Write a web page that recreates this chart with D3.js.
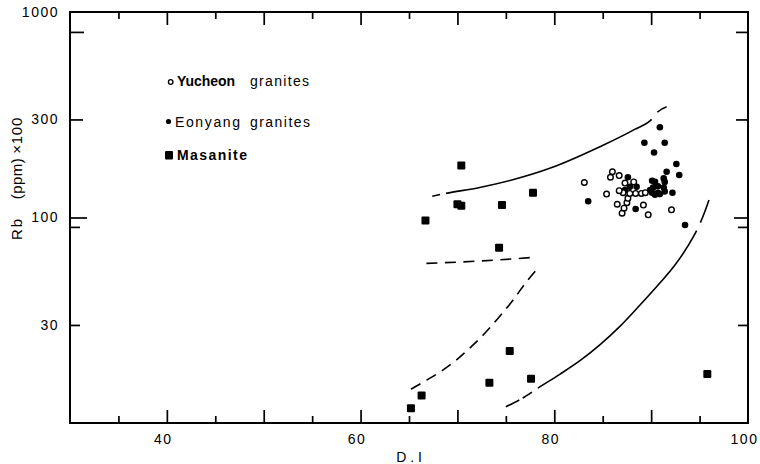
<!DOCTYPE html>
<html>
<head>
<meta charset="utf-8">
<script src="https://cdn.jsdelivr.net/npm/d3@7"></script>
<style>
  html, body { margin: 0; padding: 0; background: #fff; }
  svg text { font-family: "Liberation Sans", Arial, sans-serif; fill: #000; }
</style>
</head>
<body>
<svg id="chart" width="760" height="464"></svg>
<script>
// ---- axis ticks and labels ----
const diTicks = d3.range(35, 100, 5);          // frame ticks, every 5 D.I units
const diLabels = [40, 60, 80, 100];
const rbLabels = [30, 100, 300, 1000];
const rbTicks = [30, 100, 300];
const rbExtraTicks = [90, 800];

// ---- samples: [D.I, Rb (ppm)x100] ----
const yucheon = [
  [83.1, 148], [86.0, 167], [85.8, 157], [86.7, 160], [85.4, 130], [86.5, 116],
  [87.0, 105], [87.2, 111], [87.5, 118], [87.6, 124], [87.1, 132], [87.8, 131],
  [88.4, 131], [89.0, 131], [89.4, 132], [89.2, 115], [89.7, 103], [92.1, 109],
  [87.3, 147], [86.7, 135], [88.2, 149]
];
const eonyang = [
  [83.5, 120], [90.9, 275], [89.3, 231], [91.4, 231], [90.3, 207], [92.6, 182],
  [92.9, 161], [91.6, 167], [91.3, 155], [90.1, 151], [90.4, 149], [91.4, 149],
  [90.7, 142], [90.2, 140], [91.3, 140], [89.9, 136], [90.4, 129], [90.9, 130],
  [91.4, 134], [92.2, 132], [93.5, 92], [88.4, 110], [87.6, 157], [87.3, 136],
  [88.5, 141], [87.8, 141], [90.1, 132], [90.7, 132]
];
const masanite = [
  [66.7, 96.7], [70.4, 179], [70.0, 116], [70.4, 114], [74.6, 115], [77.8, 132],
  [74.3, 71.3], [65.2, 11.8], [66.3, 13.6], [73.3, 15.7], [75.4, 22.4], [77.6, 16.4],
  [95.8, 17.3]
];

// ---- field boundaries ----
const upperBoundary = [
  [67.4, 127], [68.8, 131], [72.3, 140], [75.8, 153], [79.6, 174], [84.7, 221],
  [88.2, 267], [90.1, 302], [90.7, 327], [91.6, 346]
];
const lowerBoundary = [
  [75.0, 12.0], [76.46, 13.0], [78.42, 14.9], [80.6, 17.3], [82.65, 20.1], [84.7, 24.0],
  [86.8, 29.6], [88.85, 37.5], [90.9, 48.0], [92.46, 58.7], [93.8, 72.7], [94.83, 88.9],
  [95.45, 104], [95.97, 121.7]
];
const leftBoundary = [
  [65.2, 14.6], [66.65, 16.0], [68.2, 17.7], [69.75, 20.0], [71.3, 23.2], [72.85, 27.4],
  [74.4, 33.2], [75.75, 39.7], [77.1, 48.5], [78.45, 57.6]
];
const midBoundary = [[66.8, 59.8], [72.3, 61.4], [77.9, 64.0]];

const legendNames = ["Yucheon", "granites", "Eonyang", "Masanite"];

// ---- layout ----
const frame = { left: 70, right: 748, top: 12, bottom: 423 };
const svg = d3.select("#chart");
const x = d3.scaleLinear().domain([30, 100]).range([frame.left, frame.right]);
const y = d3.scaleLog().domain([10, 1000]).range([frame.bottom, frame.top]);

const FONT = '"Liberation Sans", Arial, sans-serif';

function styleAxis(g) {
  g.select(".domain").remove();
  g.attr("font-family", FONT);
  g.selectAll("line").attr("stroke", "#000").attr("stroke-width", 1.7);
}

// frame ticks on the bottom and top edges, major every 10, minor between
const major = diTicks.filter(v => v % 10 === 0);
const minor = diTicks.filter(v => v % 10 !== 0);
[[major, 13], [minor, 7]].forEach(([vals, len]) => {
  svg.append("g").attr("transform", `translate(0,${frame.bottom})`)
    .call(d3.axisBottom(x).tickValues(vals).tickSize(-len).tickFormat(""))
    .call(styleAxis);
  svg.append("g").attr("transform", `translate(0,${frame.top})`)
    .call(d3.axisTop(x).tickValues(vals).tickSize(-len).tickFormat(""))
    .call(styleAxis);
});

// frame ticks on left and right edges
const leftLen = { 30: 10, 100: 17, 300: 13, 90: 10, 800: 14 };
const rightLen = { 30: 10, 100: 14, 300: 12, 90: 10, 800: 12 };
rbTicks.concat(rbExtraTicks).forEach(v => {
  svg.append("g").attr("transform", `translate(${frame.left},0)`)
    .call(d3.axisLeft(y).tickValues([v]).tickSize(-leftLen[v]).tickFormat(""))
    .call(styleAxis);
  svg.append("g").attr("transform", `translate(${frame.right},0)`)
    .call(d3.axisRight(y).tickValues([v]).tickSize(-rightLen[v]).tickFormat(""))
    .call(styleAxis);
});

// tick labels
svg.append("g").attr("transform", `translate(-4,${frame.bottom})`)
  .call(d3.axisBottom(x).tickValues(diLabels).tickSize(0).tickPadding(11).tickFormat(d3.format("d")))
  .call(styleAxis)
  .selectAll("text").attr("font-size", 14).attr("letter-spacing", "1.5px");

svg.append("g").attr("transform", `translate(${frame.left},0)`)
  .call(d3.axisLeft(y).tickValues(rbLabels).tickSize(0).tickPadding(11).tickFormat(d3.format("d")))
  .call(styleAxis)
  .selectAll("text").attr("font-size", 14).attr("letter-spacing", "1.5px");

// frame
svg.append("rect")
  .attr("x", frame.left).attr("y", frame.top)
  .attr("width", frame.right - frame.left).attr("height", frame.bottom - frame.top)
  .attr("fill", "none").attr("stroke", "#000").attr("stroke-width", 2);

// axis titles
svg.append("text")
  .attr("x", 409).attr("y", 462).attr("text-anchor", "middle")
  .attr("font-size", 14).text("D . I");

const yTitle = svg.append("text")
  .attr("transform", "translate(22,240) rotate(-90)")
  .attr("font-size", 15);
yTitle.append("tspan").attr("textLength", 21).attr("lengthAdjust", "spacing").text("Rb");
yTitle.append("tspan").attr("dx", 18).attr("textLength", 41).attr("lengthAdjust", "spacing").text("(ppm)");
yTitle.append("tspan").attr("dx", 4).attr("textLength", 36).attr("lengthAdjust", "spacing").text("×100");

// boundary curves
const line = d3.line().x(d => x(d[0])).y(d => y(d[1])).curve(d3.curveMonotoneX);
function drawCurve(data, dashFn) {
  const p = svg.append("path").attr("d", line(data))
    .attr("fill", "none").attr("stroke", "#000").attr("stroke-width", 1.6);
  const L = p.node().getTotalLength();
  p.attr("stroke-dasharray", dashFn(L));
}
drawCurve(upperBoundary, L => `8 6 ${L - 8 - 6 - 9 - 11} 9 11`);
drawCurve(lowerBoundary, L => `15 4 11 7 ${L - 15 - 4 - 11 - 7 - 9 - 24} 9 24`);
drawCurve(leftBoundary, () => "11 7");
drawCurve(midBoundary, () => "11 7.5");

// samples
svg.append("g").selectAll("rect").data(masanite).join("rect")
  .attr("x", d => x(d[0]) - 4).attr("y", d => y(d[1]) - 4)
  .attr("width", 8).attr("height", 8).attr("rx", 1).attr("fill", "#000");

svg.append("g").selectAll("circle").data(eonyang).join("circle")
  .attr("cx", d => x(d[0])).attr("cy", d => y(d[1])).attr("r", 3.3).attr("fill", "#000");

svg.append("g").selectAll("circle").data(yucheon).join("circle")
  .attr("cx", d => x(d[0])).attr("cy", d => y(d[1])).attr("r", 2.8)
  .attr("fill", "#fff").attr("stroke", "#000").attr("stroke-width", 1.4);

// legend
const lg = svg.append("g").attr("font-size", 14);
lg.append("circle").attr("cx", 170.7).attr("cy", 82).attr("r", 2.3)
  .attr("fill", "#fff").attr("stroke", "#000").attr("stroke-width", 1.3);
lg.append("text").attr("x", 177).attr("y", 86).attr("font-weight", "bold")
  .attr("textLength", 58).attr("lengthAdjust", "spacing").text(legendNames[0]);
lg.append("text").attr("x", 250).attr("y", 86)
  .attr("textLength", 59).attr("lengthAdjust", "spacing").text(legendNames[1]);

lg.append("circle").attr("cx", 168.5).attr("cy", 121.5).attr("r", 2.6).attr("fill", "#000");
lg.append("text").attr("x", 175).attr("y", 126.5)
  .attr("textLength", 65).attr("lengthAdjust", "spacing").text(legendNames[2]);
lg.append("text").attr("x", 250).attr("y", 126.5)
  .attr("textLength", 60).attr("lengthAdjust", "spacing").text(legendNames[1]);

lg.append("rect").attr("x", 165).attr("y", 151).attr("width", 8).attr("height", 8.5)
  .attr("rx", 1).attr("fill", "#000");
lg.append("text").attr("x", 177).attr("y", 160).attr("font-weight", "bold")
  .attr("textLength", 70).attr("lengthAdjust", "spacing").text(legendNames[3]);
</script>
</body>
</html>
